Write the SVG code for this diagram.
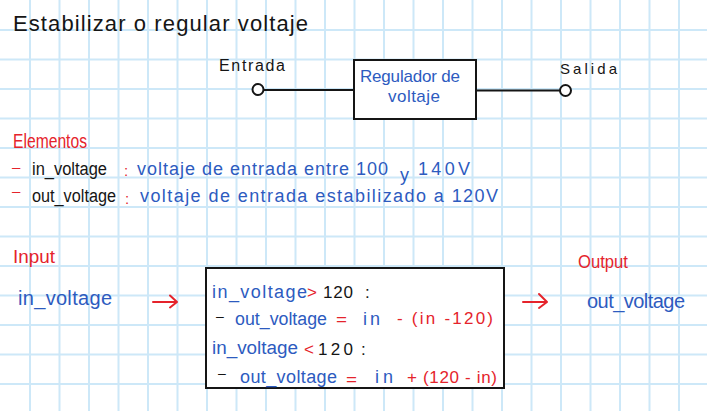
<svg xmlns="http://www.w3.org/2000/svg" width="707" height="411" viewBox="0 0 707 411">
<style>
text{font-family:"Liberation Sans",Arial,sans-serif;}
.k{fill:#151515}
.b{fill:#2d5bbf}
.r{fill:#e5232b}
.wire{stroke:#151515;stroke-width:2;fill:none}
.term{stroke:#151515;stroke-width:2;fill:#ffffff}
.box{stroke:#151515;stroke-width:2;fill:#ffffff}
.arr{stroke:#e5232b;stroke-width:2;fill:none;stroke-linecap:round;stroke-linejoin:round}
.grid{stroke:#cde8f8;stroke-width:2;fill:none}
</style>
<rect width="707" height="411" fill="#ffffff"/>
<path class="grid" d="M30 0V411M59.5 0V411M89 0V411M118.5 0V411M148 0V411M177.5 0V411M207 0V411M236.5 0V411M266 0V411M295.5 0V411M325 0V411M354.5 0V411M384 0V411M413.5 0V411M443 0V411M472.5 0V411M502 0V411M531.5 0V411M561 0V411M590.5 0V411M620 0V411M649.5 0V411M679 0V411M0 30H707M0 59.5H707M0 89H707M0 118.5H707M0 148H707M0 177.5H707M0 207H707M0 236.5H707M0 266H707M0 295.5H707M0 325H707M0 354.5H707M0 384H707"/>

<g id="title">
<text class="k" x="13" y="31" font-size="22" textLength="295" lengthAdjust="spacing">Estabilizar o regular voltaje</text>
</g>

<g id="connectors">
<line class="wire" x1="264" y1="90" x2="354" y2="90"/>
<line class="wire" x1="476" y1="90.5" x2="560" y2="90.5"/>
<path class="arr" d="M153 302H177M170 295.5L177 302L170 307.5"/>
<path class="arr" d="M523 302H547M539 294L547 302L539 308"/>
</g>

<g id="entrada">
<text class="k" x="219" y="71" font-size="16" textLength="66" lengthAdjust="spacing">Entrada</text>
<circle class="term" cx="258" cy="89.5" r="5.5"/>
</g>

<g id="salida">
<text class="k" x="560" y="73.5" font-size="15" textLength="57" lengthAdjust="spacing">Salida</text>
<circle class="term" cx="565.5" cy="90.5" r="5.5"/>
</g>

<g id="regulador">
<rect class="box" x="354" y="60" width="122" height="59"/>
<text class="b" x="360" y="82" font-size="17" textLength="100" lengthAdjust="spacing">Regulador de</text>
<text class="b" x="388" y="101.5" font-size="17" textLength="52" lengthAdjust="spacing">voltaje</text>
</g>

<g id="elementos">
<text class="r" x="13" y="148" font-size="20" textLength="74" lengthAdjust="spacingAndGlyphs">Elementos</text>
<text class="r" x="12" y="172" font-size="15">–</text>
<text class="k" x="32" y="174.5" font-size="18" textLength="75" lengthAdjust="spacingAndGlyphs">in_voltage</text>
<text class="r" x="124" y="176" font-size="15">:</text>
<text class="b" x="137" y="175" font-size="18" textLength="251" lengthAdjust="spacing">voltaje de entrada entre 100</text>
<text class="b" x="400" y="181" font-size="18">y</text>
<text class="b" x="418" y="175" font-size="18" textLength="52" lengthAdjust="spacing">140V</text>
<text class="r" x="12" y="196" font-size="15">–</text>
<text class="k" x="32" y="201.5" font-size="18" textLength="84" lengthAdjust="spacingAndGlyphs">out_voltage</text>
<text class="r" x="125" y="204" font-size="15">:</text>
<text class="b" x="140" y="202" font-size="18" textLength="358" lengthAdjust="spacing">voltaje de entrada estabilizado a 120V</text>
</g>

<g id="input">
<text class="r" x="13" y="263" font-size="19" textLength="42" lengthAdjust="spacingAndGlyphs">Input</text>
<text class="b" x="18" y="305" font-size="20" textLength="94" lengthAdjust="spacing">in_voltage</text>
</g>

<g id="logica">
<rect class="box" x="206" y="268" width="298" height="120"/>
<text class="b" x="212" y="297.5" font-size="18" textLength="95" lengthAdjust="spacing">in_voltage</text>
<text class="r" x="307" y="298" font-size="17">&gt;</text>
<text class="k" x="323" y="297.5" font-size="17" textLength="30" lengthAdjust="spacing">120</text>
<text class="k" x="365" y="297.5" font-size="17">:</text>
<text class="k" x="216" y="321" font-size="14">–</text>
<text class="b" x="235" y="325" font-size="18" textLength="92" lengthAdjust="spacingAndGlyphs">out_voltage</text>
<text class="r" x="336" y="325" font-size="17" textLength="11" lengthAdjust="spacingAndGlyphs">=</text>
<text class="b" x="363" y="325" font-size="18" textLength="17" lengthAdjust="spacing">in</text>
<text class="r" x="397" y="323.5" font-size="17" textLength="96" lengthAdjust="spacing">- (in -120)</text>
<text class="b" x="212" y="353.5" font-size="18" textLength="86" lengthAdjust="spacingAndGlyphs">in_voltage</text>
<text class="r" x="304" y="355" font-size="17">&lt;</text>
<text class="k" x="318" y="355" font-size="17" textLength="35" lengthAdjust="spacing">120</text>
<text class="k" x="361" y="355" font-size="17">:</text>
<text class="k" x="218" y="378" font-size="14">–</text>
<text class="b" x="240" y="383" font-size="18" textLength="97" lengthAdjust="spacing">out_voltage</text>
<text class="r" x="346" y="385" font-size="17" textLength="11" lengthAdjust="spacingAndGlyphs">=</text>
<text class="b" x="375" y="383" font-size="18" textLength="18" lengthAdjust="spacing">in</text>
<text class="r" x="407" y="383" font-size="17" textLength="90" lengthAdjust="spacing">+ (120 - in)</text>
</g>

<g id="output">
<text class="r" x="578" y="268" font-size="19" textLength="50" lengthAdjust="spacingAndGlyphs">Output</text>
<text class="b" x="587" y="308" font-size="20" textLength="98" lengthAdjust="spacing">out_voltage</text>
</g>
</svg>
